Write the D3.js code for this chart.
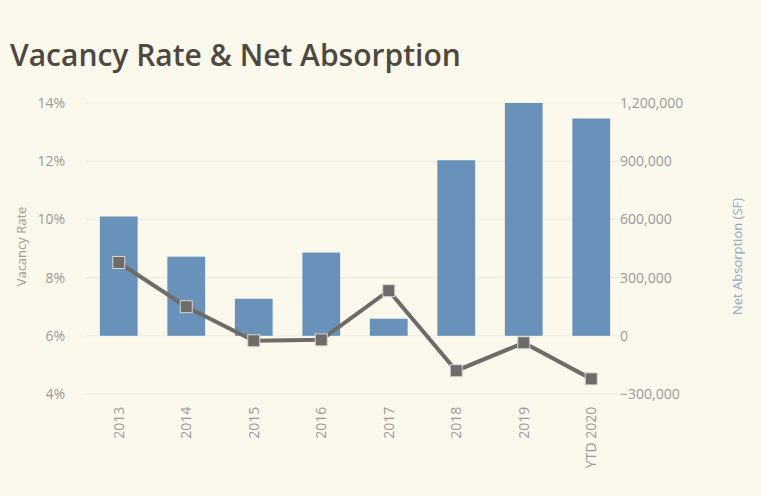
<!DOCTYPE html>
<meta charset="utf-8">
<title>Vacancy Rate & Net Absorption</title>
<style>
body { margin: 0; background: #fbf8ec; }
.axis text { font: 14px "Open Sans", sans-serif; fill: #9a9a9a; }
.axis path, .axis line { display: none; }
.grid line { stroke: #efece0; }
.axislabel { font: 13px "Open Sans", sans-serif; }
h1 { position: absolute; left: 10px; top: 34px; margin: 0; font: 600 30px "Open Sans", sans-serif; color: #4e4841; }
</style>
<h1>Vacancy Rate &amp; Net Absorption</h1>
<svg class="chart" width="761" height="496"></svg>
<script src="https://cdnjs.cloudflare.com/ajax/libs/d3/7.8.5/d3.min.js"></script>
<script>
var years = ["2013", "2014", "2015", "2016", "2017", "2018", "2019", "YTD 2020"];
var absorption = [615000, 408000, 191000, 429000, 88000, 905000, 1200000, 1120000];
var vacancy = [8.52, 7.0, 5.83, 5.86, 7.55, 4.8, 5.76, 4.52];
var leftTicks = [4, 6, 8, 10, 12, 14];
var rightTicks = [-300000, 0, 300000, 600000, 900000, 1200000];

var svg = d3.select(".chart");
var plotLeft = 85, plotRight = 625, plotTop = 103, plotBottom = 394;

var x = d3.scaleBand().domain(years).range([plotLeft, plotRight]).paddingInner(0.44).paddingOuter(0.22);
var yL = d3.scaleLinear().domain([4, 14]).range([plotBottom, plotTop]);
var yR = d3.scaleLinear().domain([-300000, 1200000]).range([plotBottom, plotTop]);

svg.append("g").attr("class", "grid")
    .selectAll("line").data(leftTicks).enter().append("line")
    .attr("x1", plotLeft).attr("x2", plotRight)
    .attr("y1", function(d) { return yL(d); }).attr("y2", function(d) { return yL(d); });

svg.selectAll(".bar").data(absorption).enter().append("rect")
    .attr("class", "bar")
    .attr("x", function(d, i) { return x(years[i]); })
    .attr("width", x.bandwidth())
    .attr("y", function(d) { return yR(Math.max(0, d)); })
    .attr("height", function(d) { return Math.abs(yR(d) - yR(0)); })
    .attr("fill", "#6892b9");

var line = d3.line()
    .x(function(d, i) { return x(years[i]) + x.bandwidth() / 2; })
    .y(function(d) { return yL(d); });

svg.append("path").datum(vacancy)
    .attr("d", line).attr("fill", "none")
    .attr("stroke", "#6e6c69").attr("stroke-width", 4);

svg.selectAll(".pt").data(vacancy).enter().append("rect")
    .attr("class", "pt")
    .attr("x", function(d, i) { return x(years[i]) + x.bandwidth() / 2 - 6; })
    .attr("y", function(d) { return yL(d) - 6; })
    .attr("width", 12).attr("height", 12)
    .attr("fill", "#6e6c69").attr("stroke", "#d8d6d0").attr("stroke-width", 1);

svg.append("g").attr("class", "axis")
    .attr("transform", "translate(" + (plotLeft - 17) + ",0)")
    .call(d3.axisLeft(yL).tickValues(leftTicks).tickSize(0).tickFormat(function(d) { return d + "%"; }));

svg.append("g").attr("class", "axis")
    .attr("transform", "translate(" + (plotRight - 8) + ",0)")
    .call(d3.axisRight(yR).tickValues(rightTicks).tickSize(0).tickFormat(d3.format(",")));

svg.append("g").attr("class", "axis")
    .attr("transform", "translate(0," + (plotBottom + 10) + ")")
    .call(d3.axisBottom(x).tickSize(0))
    .selectAll("text")
    .attr("transform", "rotate(-90)")
    .attr("x", 0).attr("y", 0).attr("dx", "-0.2em").attr("dy", "0.35em")
    .style("text-anchor", "end");

svg.append("text").attr("class", "axislabel")
    .attr("transform", "translate(26," + ((plotTop + plotBottom) / 2 - 2) + ") rotate(-90)")
    .style("text-anchor", "middle").attr("fill", "#9a9a9a")
    .text("Vacancy Rate");

svg.append("text").attr("class", "axislabel")
    .attr("transform", "translate(742," + ((plotTop + plotBottom) / 2 + 8) + ") rotate(-90)")
    .style("text-anchor", "middle").attr("fill", "#8fa9c6")
    .text("Net Absorption (SF)");
</script>
